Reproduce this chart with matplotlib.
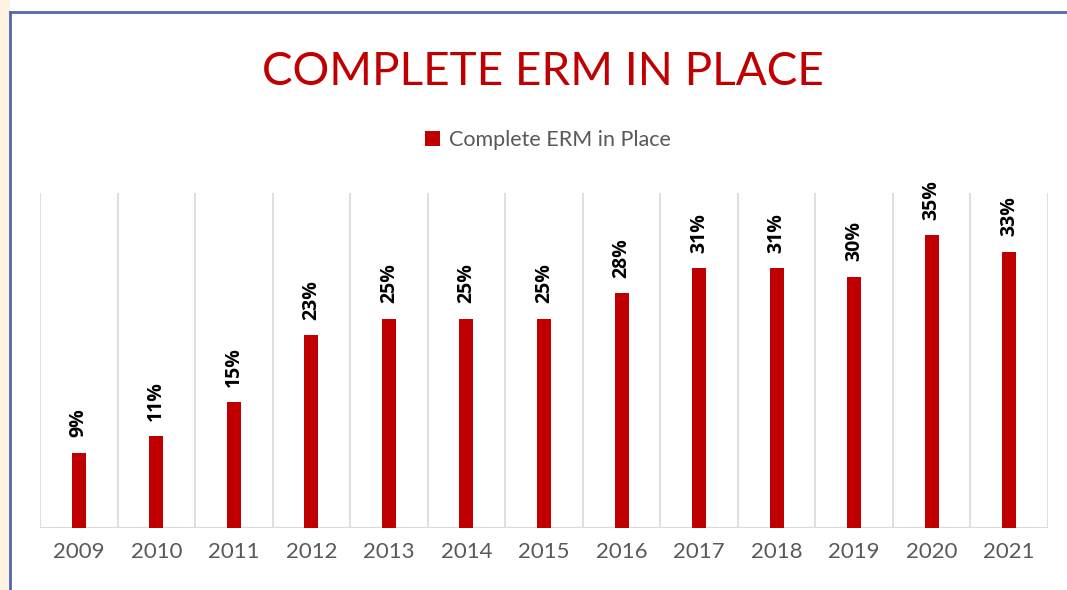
import matplotlib

matplotlib.use("Agg")
import matplotlib.pyplot as plt
import numpy as np
from matplotlib.patches import Rectangle

years = ["2009", "2010", "2011", "2012", "2013", "2014", "2015",
         "2016", "2017", "2018", "2019", "2020", "2021"]
erm_pct = [9, 11, 15, 23, 25, 25, 25, 28, 31, 31, 30, 35, 33]

RED = "#C00000"
GRID = "#D9D9D9"
FONT = "Lato"

fig = plt.figure(figsize=(10.67, 5.9), dpi=100)

# slide background strip + blue frame
fig.patches.append(Rectangle((0, 0), 10 / 1067, 1, transform=fig.transFigure,
                             facecolor="#FDF3E3", edgecolor="none", zorder=0))
fig.add_artist(plt.Line2D([10 / 1067, 10 / 1067], [0, 1 - 12 / 590],
                          color="#5566B0", lw=2))
fig.add_artist(plt.Line2D([10 / 1067, 1], [1 - 12 / 590, 1 - 12 / 590],
                          color="#5566B0", lw=2))

ax = fig.add_axes([40 / 1067, 1 - 528 / 590, (1048 - 40) / 1067, (528 - 193) / 590])
x = np.arange(len(years))
ax.bar(x, erm_pct, width=0.18, color=RED, zorder=3, label="Complete ERM in Place")
ax.set_xlim(-0.5, len(years) - 0.5)
ax.set_ylim(0, 40)

for b in np.arange(-0.5, len(years), 1):
    ax.axvline(b, color=GRID, lw=1.2, zorder=1)
ax.axhline(0, color=GRID, lw=1.5, zorder=2)

for xi, v in zip(x, erm_pct):
    ax.annotate(f"{v}%", (xi, v), xytext=(0, 11), textcoords="offset points",
                rotation=90, ha="center", va="bottom", fontsize=14,
                fontweight="bold", family="Open Sans", color="black")

for s in ax.spines.values():
    s.set_visible(False)
ax.set_yticks([])
ax.set_xticks(x)
ax.set_xticklabels(years, family=FONT, fontsize=16, color="#595959")
ax.tick_params(axis="x", length=0, pad=10)

fig.text(543 / 1067, 1 - 72 / 590, "COMPLETE ERM IN PLACE", ha="center", va="center",
         fontsize=33, color=RED, family=FONT)

leg = fig.legend(loc="center", bbox_to_anchor=(548 / 1067, 1 - 140 / 590), frameon=False,
                 prop={"family": FONT, "size": 15.5}, handlelength=0.7, handleheight=0.7,
                 handletextpad=0.4)
for t in leg.get_texts():
    t.set_color("#595959")

fig.savefig("out.png", dpi=100)
